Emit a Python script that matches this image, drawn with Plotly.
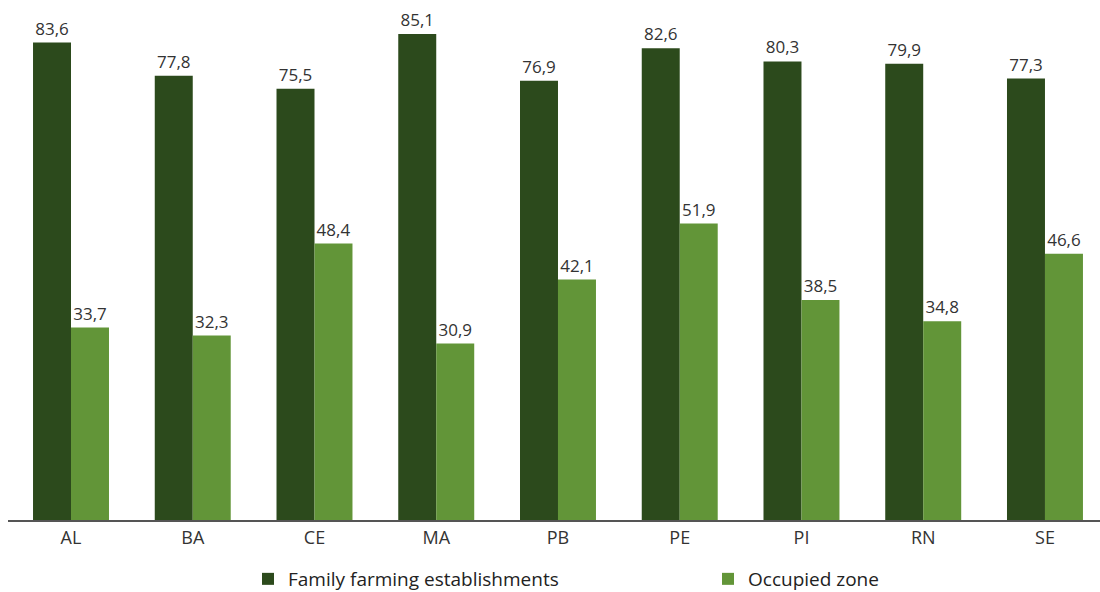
import plotly.graph_objects as go

categories = ["AL", "BA", "CE", "MA", "PB", "PE", "PI", "RN", "SE"]
family_farming = [83.6, 77.8, 75.5, 85.1, 76.9, 82.6, 80.3, 79.9, 77.3]
occupied_zone = [33.7, 32.3, 48.4, 30.9, 42.1, 51.9, 38.5, 34.8, 46.6]

def fmt(v):
    return f"{v:.1f}".replace(".", ",")

fig = go.Figure()
fig.add_trace(go.Bar(
    x=categories, y=family_farming, name="Family farming establishments",
    marker=dict(color="#2C4A1C", line=dict(width=0)),
    text=[fmt(v) for v in family_farming],
    textposition="outside", cliponaxis=False,
    textfont=dict(size=17, color="#333333"),
))
fig.add_trace(go.Bar(
    x=categories, y=occupied_zone, name="Occupied zone",
    marker=dict(color="#629538", line=dict(width=0)),
    text=[fmt(v) for v in occupied_zone],
    textposition="outside", cliponaxis=False,
    textfont=dict(size=17, color="#333333"),
))

fig.update_layout(
    width=1100, height=592,
    margin=dict(l=8, r=0, t=6, b=72, autoexpand=False),
    paper_bgcolor="white", plot_bgcolor="white",
    barmode="group", bargap=0.376, bargroupgap=0,
    font=dict(family="Open Sans", color="#333333"),
    showlegend=True,
    legend=dict(orientation="h", xref="container", yref="container",
                x=248 / 1100, xanchor="left", y=1 - 579 / 592, yanchor="middle",
                entrywidth=415, font=dict(size=19, color="#222222")),
    xaxis=dict(showline=True, linecolor="#555555", linewidth=2, ticks="",
               range=[-0.5175, 8.452],
               tickfont=dict(size=18, color="#333333")),
    yaxis=dict(range=[0, 90], visible=False, showgrid=False),
)

fig.write_html("out.html")
